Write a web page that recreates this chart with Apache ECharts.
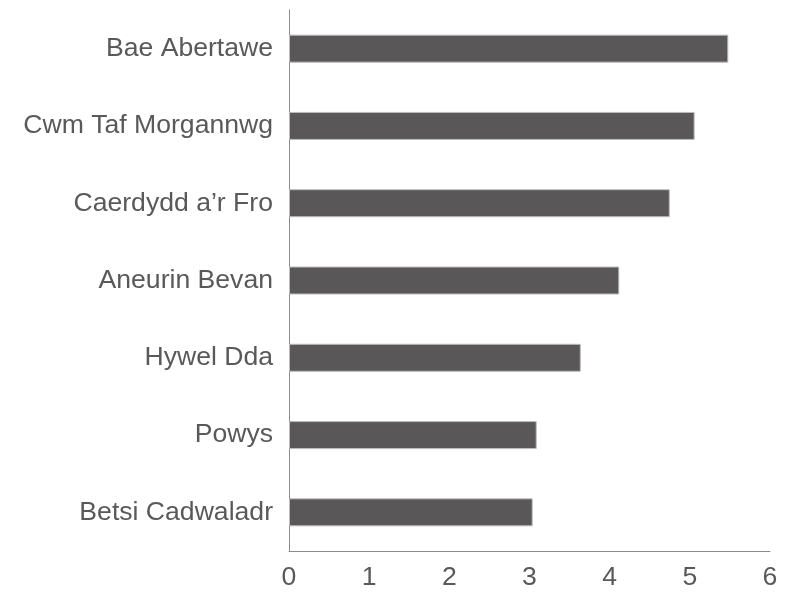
<!DOCTYPE html>
<html>
<head>
<meta charset="utf-8">
<script src="https://cdn.jsdelivr.net/npm/echarts@6/dist/echarts.min.js"></script>
<style>html,body{margin:0;padding:0;background:#fff}#c{width:812px;height:592px}</style>
</head>
<body>
<div id="c"></div>
<script>
const categories = ["Betsi Cadwaladr", "Powys", "Hywel Dda", "Aneurin Bevan", "Caerdydd a\u2019r Fro", "Cwm Taf Morgannwg", "Bae Abertawe"];
const values = [3.04, 3.09, 3.64, 4.12, 4.75, 5.06, 5.48];
const xTicks = [0, 1, 2, 3, 4, 5, 6];

const chart = echarts.init(document.getElementById('c'), null, {renderer: 'canvas'});
chart.setOption({
  animation: false,
  grid: {left: 289, right: 42, top: 10, bottom: 41, containLabel: false},
  xAxis: {
    type: 'value', min: xTicks[0], max: xTicks[xTicks.length - 1], interval: 1,
    axisLine: {show: true, lineStyle: {color: '#8c8c8c', width: 1}},
    axisTick: {show: false},
    splitLine: {show: false},
    axisLabel: {color: '#595959', fontSize: 26.6, fontFamily: 'Liberation Sans, Arial, sans-serif', margin: 13}
  },
  yAxis: {
    type: 'category', data: categories,
    axisLine: {show: true, lineStyle: {color: '#8c8c8c', width: 1}},
    axisTick: {show: false},
    axisLabel: {color: '#595959', fontSize: 26.6, fontFamily: 'Liberation Sans, Arial, sans-serif', margin: 16}
  },
  series: [{
    type: 'bar', data: values, barWidth: 28,
    itemStyle: {color: '#595757', borderColor: '#bdbdbd', borderWidth: 1}
  }]
});
</script>
</body>
</html>
